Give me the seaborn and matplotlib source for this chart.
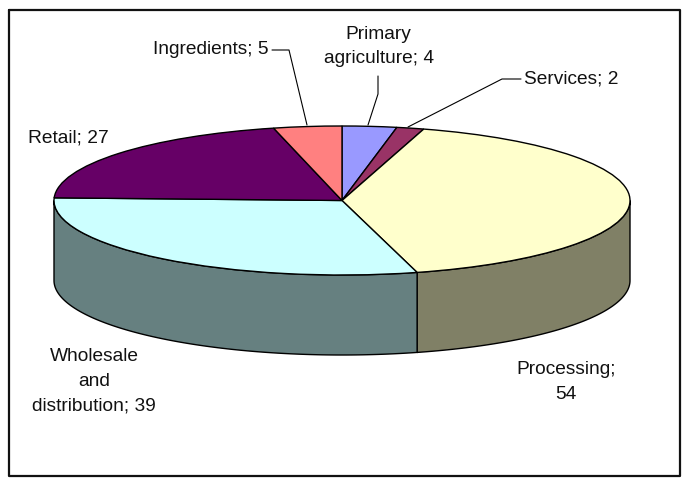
import numpy as np
import matplotlib
matplotlib.use('Agg')
import matplotlib.pyplot as plt
import seaborn as sns

# values, clockwise from 12 o'clock
categories = ['Primary agriculture', 'Services', 'Processing',
              'Wholesale and distribution', 'Retail', 'Ingredients']
values = [4, 2, 54, 39, 27, 5]
labels = ['Primary\nagriculture; 4', 'Services; 2', 'Processing;\n54',
          'Wholesale\nand\ndistribution; 39', 'Retail; 27', 'Ingredients; 5']
top_colors = ['#9999FF', '#993366', '#FFFFCC', '#CCFFFF', '#660066', '#FF8080']

sns.set_theme(style='white')
plt.rcParams['font.family'] = ['Liberation Sans', 'DejaVu Sans']

W, H = 682, 480
cx, cy = 342, 200.5     # pie centre in pixels
rx, ry = 288, 74.5      # flattened radii
depth = 80 / ry

fig = plt.figure(figsize=(W / 100, H / 100), dpi=100)

# pie axes: one x unit is rx pixels, one y unit is ry pixels
ax = fig.add_axes([0, 0, 1, 1])
palette = sns.color_palette(top_colors)
ax.pie(values, colors=palette, startangle=90, counterclock=False, radius=1,
       wedgeprops={'edgecolor': 'black', 'linewidth': 1.0, 'zorder': 3})
ax.set_aspect('auto')
ax.set_xlim(-cx / rx, (W - cx) / rx)
ax.set_ylim((cy - H) / ry, cy / ry)
ax.axis('off')

# side wall of the slices on the front half
edges = np.cumsum([0] + values) / sum(values) * 360
for i in range(len(values)):
    a = max(edges[i], 90)
    b = min(edges[i + 1], 270)
    if a >= b:
        continue
    t = np.radians(np.linspace(a, b, 200))
    xs = np.sin(t)
    ys = np.cos(t)
    side = tuple(0.5 * c for c in palette[i][:3])
    ax.fill(np.r_[xs, xs[::-1]], np.r_[ys, ys[::-1] - depth],
            facecolor=side, edgecolor='black', linewidth=1.0, zorder=2)

# overlay in pixel coordinates for frame, labels and leaders
ov = fig.add_axes([0, 0, 1, 1], facecolor='none')
ov.set_xlim(0, W)
ov.set_ylim(H, 0)
ov.axis('off')

ov.plot([9, 680, 680, 9, 9], [10, 10, 476, 476, 10], color='#111111', lw=1.6)

ov.plot([272, 289, 307], [50, 50, 125], color='black', lw=0.8)
ov.plot([378, 378, 368], [76, 94, 125], color='black', lw=0.8)
ov.plot([521, 502, 408], [79, 79, 127], color='black', lw=0.8)

text_pos = [(378.5, 46.5), (524, 78.5), (566, 382), (94, 381.5), (28, 138), (153, 50)]
text_ha = ['center', 'left', 'center', 'center', 'left', 'left']
for s, (x, y), ha in zip(labels, text_pos, text_ha):
    ov.text(x, y, s, ha=ha, va='center', ma='center', fontsize=13.8,
            color='#111111', linespacing=1.6)

fig.savefig('out.png', dpi=100, facecolor='white')
